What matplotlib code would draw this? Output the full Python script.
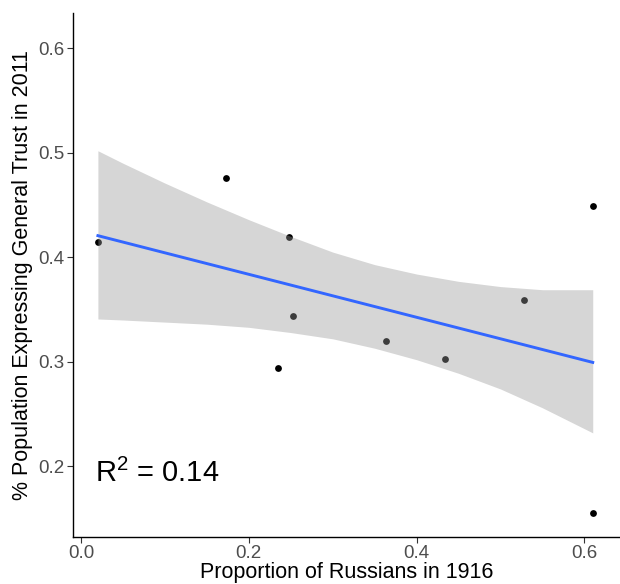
import numpy as np
import matplotlib
matplotlib.use("Agg")
import matplotlib.pyplot as plt

plt.rcParams['font.family'] = ['Liberation Sans', 'DejaVu Sans']
plt.rcParams['mathtext.fontset'] = 'custom'
plt.rcParams['mathtext.rm'] = 'Liberation Sans'
plt.rcParams['mathtext.it'] = 'Liberation Sans'

# data
russians_1916 = [0.020, 0.173, 0.248, 0.253, 0.235, 0.364, 0.434, 0.528, 0.610, 0.610]
trust_2011 = [0.415, 0.476, 0.419, 0.344, 0.294, 0.320, 0.303, 0.359, 0.449, 0.155]

# confidence band edges
band_x = [0.02, 0.05, 0.10, 0.15, 0.20, 0.25, 0.30, 0.35, 0.40, 0.45, 0.50, 0.55, 0.61]
band_lo = [0.341, 0.340, 0.338, 0.336, 0.333, 0.328, 0.322, 0.313, 0.302, 0.289, 0.274, 0.256, 0.232]
band_hi = [0.502, 0.490, 0.471, 0.453, 0.436, 0.420, 0.405, 0.393, 0.384, 0.377, 0.372, 0.369, 0.369]

x_ticks = [0.0, 0.2, 0.4, 0.6]
y_ticks = [0.2, 0.3, 0.4, 0.5, 0.6]

x = np.array(russians_1916)
y = np.array(trust_2011)

# least squares line through the points
slope, intercept = np.polyfit(x, y, 1)
xs = np.array([x.min(), x.max()])
fit = slope * xs + intercept

fig = plt.figure(figsize=(6.2, 5.84), dpi=100)
ax = fig.add_axes([0.118, 0.0813, 0.882, 0.8964])

ax.scatter(x, y, s=24, color="black", zorder=2, linewidths=0)
ax.fill_between(band_x, band_lo, band_hi, color="#999999",
                alpha=0.4, linewidth=0, zorder=3)
ax.plot(xs, fit, color="#3366FF", linewidth=2.1, zorder=4)

ax.text(0.017, 0.185, "R$^{2}$ = 0.14", fontsize=21, color="black")

ax.set_xlim(-0.0095, 0.6425)
ax.set_ylim(0.1328, 0.6338)
ax.set_xticks(x_ticks)
ax.set_xticklabels(["0.0", "0.2", "0.4", "0.6"])
ax.set_yticks(y_ticks)
ax.set_yticklabels(["0.2", "0.3", "0.4", "0.5", "0.6"])

for side in ["top", "right"]:
    ax.spines[side].set_visible(False)
for side in ["left", "bottom"]:
    ax.spines[side].set_linewidth(1.0)
    ax.spines[side].set_color("black")

ax.tick_params(axis="both", direction="out", length=4, width=0.8,
               color="#333333", labelcolor="#4D4D4D", labelsize=13.5, pad=2)

ax.set_xlabel("Proportion of Russians in 1916", fontsize=15.5, labelpad=0)
ax.set_ylabel("% Population Expressing General Trust in 2011", fontsize=15.5, labelpad=4)

fig.savefig("out.png", dpi=100)
